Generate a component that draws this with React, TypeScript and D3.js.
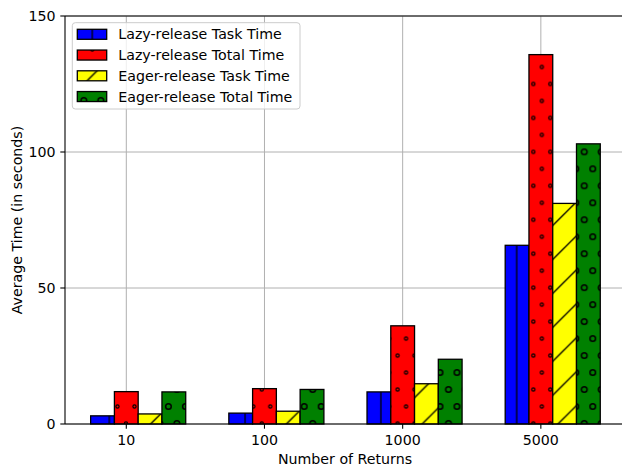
import React from "react";
import * as d3 from "d3";

// Average run times per number of returns
const categories = ["10", "100", "1000", "5000"];
const lazyTask = [3.0, 4.0, 11.8, 65.7];
const lazyTotal = [11.9, 13.0, 36.1, 135.8];
const eagerTask = [3.7, 4.7, 14.8, 81.1];
const eagerTotal = [11.8, 12.7, 23.8, 103.0];
const seriesNames = [
  "Lazy-release Task Time",
  "Lazy-release Total Time",
  "Eager-release Task Time",
  "Eager-release Total Time",
];
const seriesColors = ["#0000ff", "#ff0000", "#ffff00", "#008000"];
const seriesHatch = ["vline", "dots", "diag", "rings"];
const yTicks = [0, 50, 100, 150];

const W = 622;
const H = 468;
const FONT = "'DejaVu Sans', sans-serif";
const FS = 14.2;
const BAR_W = 0.172;
const S = 16.975; // hatch lattice step
const T = 2 * S; // hatch tile size

const x = d3.scaleLinear().domain([-0.4436, 3.609]).range([65, 625]);
const y = d3.scaleLinear().domain([0, 150]).range([424, 16]);

const allSeries = [lazyTask, lazyTotal, eagerTask, eagerTotal];

function HatchTile({ kind }: { kind: string }) {
  const sw = 1.3;
  if (kind === "vline") {
    return (
      <g stroke="#000" strokeWidth={sw}>
        <line x1={0} y1={-1} x2={0} y2={T + 1} />
        <line x1={T} y1={-1} x2={T} y2={T + 1} />
      </g>
    );
  }
  if (kind === "diag") {
    return (
      <g stroke="#000" strokeWidth={sw}>
        <line x1={-2} y1={T + 2} x2={T + 2} y2={-2} />
        <line x1={-2} y1={2} x2={2} y2={-2} />
        <line x1={T - 2} y1={T + 2} x2={T + 2} y2={T - 2} />
      </g>
    );
  }
  const r = kind === "dots" ? 1.6 : 2.8;
  const pts: [number, number][] = [
    [S / 2, S / 2],
    [(3 * S) / 2, S / 2],
    [0, (3 * S) / 2],
    [S, (3 * S) / 2],
    [2 * S, (3 * S) / 2],
  ];
  return (
    <g fill="none" stroke="#000" strokeWidth={kind === "dots" ? 1.2 : 1.5}>
      {pts.map(([cx, cy], i) => (
        <circle key={i} cx={cx} cy={cy} r={r} />
      ))}
    </g>
  );
}

function Pattern({ id, kind, ox, oy }: { id: string; kind: string; ox: number; oy: number }) {
  return (
    <pattern id={id} patternUnits="userSpaceOnUse" x={ox} y={oy} width={T} height={T}>
      <HatchTile kind={kind} />
    </pattern>
  );
}

// tile origins for the plot area and for the legend swatches
const plotOrigin: Record<string, [number, number]> = {
  vline: [109.3, 398.0],
  dots: [109.0, 398.0],
  diag: [109.0, 398.0 + (778.3 - T - 507.0)],
  rings: [109.0, 398.0],
};
const legendOrigin: Record<string, [number, number]> = {
  vline: [92.3, 41.0],
  dots: [83.8, 41.0],
  diag: [88.5, 167.9 - T - 88.5],
  rings: [83.8, 41.0],
};

export default function App() {
  const y0 = y(0);
  const legX = 72.3;
  const legY = 22.7;
  const rowY = (i: number) => 34.3 + i * 20.75;
  return (
    <div style={{ position: "fixed", left: 0, top: 0 }}>
      <svg width={W} height={H} style={{ display: "block", background: "#fff" }} fontFamily={FONT}>
        <defs>
          {seriesHatch.map((k) => (
            <Pattern key={"p" + k} id={"plot-" + k} kind={k} ox={plotOrigin[k][0]} oy={plotOrigin[k][1]} />
          ))}
          {seriesHatch.map((k) => (
            <Pattern key={"l" + k} id={"leg-" + k} kind={k} ox={legendOrigin[k][0]} oy={legendOrigin[k][1]} />
          ))}
        </defs>

        {/* grid */}
        <g stroke="#b0b0b0" strokeWidth={1}>
          {categories.map((c, i) => (
            <line key={"gx" + c} x1={x(i)} x2={x(i)} y1={y(150)} y2={y(0)} />
          ))}
          {yTicks.map((t) => (
            <line key={"gy" + t} x1={x.range()[0]} x2={x.range()[1]} y1={y(t)} y2={y(t)} />
          ))}
        </g>

        {/* bars */}
        {allSeries.map((vals, si) => (
          <g key={"s" + si}>
            {vals.map((v, ci) => {
              const cx = x(ci + (si - 1) * BAR_W);
              const bw = x(BAR_W) - x(0);
              const x0 = cx - bw / 2;
              const yt = y(v);
              return (
                <g key={ci}>
                  <rect x={x0} y={yt} width={bw} height={y0 - yt} fill={seriesColors[si]} />
                  <rect x={x0} y={yt} width={bw} height={y0 - yt} fill={`url(#plot-${seriesHatch[si]})`} />
                  <rect x={x0} y={yt} width={bw} height={y0 - yt} fill="none" stroke="#000" strokeWidth={1.3} />
                </g>
              );
            })}
          </g>
        ))}

        {/* spines */}
        <g stroke="#000" strokeWidth={1.1} fill="none">
          <line x1={x.range()[0]} x2={x.range()[0]} y1={y(150)} y2={y(0)} />
          <line x1={x.range()[0]} x2={x.range()[1]} y1={y(0)} y2={y(0)} />
          <line x1={x.range()[0]} x2={x.range()[1]} y1={y(150)} y2={y(150)} />
          <line x1={x.range()[1]} x2={x.range()[1]} y1={y(150)} y2={y(0)} />
        </g>

        {/* y axis */}
        <g fontSize={FS} fill="#000">
          {yTicks.map((t) => (
            <g key={"yt" + t}>
              <line x1={x.range()[0] - 4.7} x2={x.range()[0]} y1={y(t)} y2={y(t)} stroke="#000" strokeWidth={1.1} />
              <text x={55.5} y={y(t)} textAnchor="end" dominantBaseline="central">
                {t}
              </text>
            </g>
          ))}
          <text transform={`translate(21.5,${(y(0) + y(150)) / 2}) rotate(-90)`} textAnchor="middle">
            Average Time (in seconds)
          </text>
        </g>

        {/* x axis */}
        <g fontSize={FS} fill="#000">
          {categories.map((c, i) => (
            <g key={"xt" + c}>
              <line x1={x(i)} x2={x(i)} y1={y0} y2={y0 + 4.7} stroke="#000" strokeWidth={1.1} />
              <text x={x(i)} y={444.5} textAnchor="middle">
                {c}
              </text>
            </g>
          ))}
          <text x={345} y={463.5} textAnchor="middle">
            Number of Returns
          </text>
        </g>

        {/* legend */}
        <g>
          <rect x={legX} y={legY} width={300 - legX} height={109 - legY} rx={3} fill="#fff" fillOpacity={0.8} stroke="#cccccc" strokeWidth={1} />
          {seriesNames.map((name, i) => {
            const cy = rowY(i);
            return (
              <g key={"lg" + i}>
                <rect x={77.3} y={cy - 5} width={29.4} height={10} fill={seriesColors[i]} />
                <rect x={77.3} y={cy - 5} width={29.4} height={10} fill={`url(#leg-${seriesHatch[i]})`} />
                <rect x={77.3} y={cy - 5} width={29.4} height={10} fill="none" stroke="#000" strokeWidth={1.3} />
                <text x={118.3} y={cy} fontSize={FS} dominantBaseline="central" fill="#000">
                  {name}
                </text>
              </g>
            );
          })}
        </g>
      </svg>
    </div>
  );
}
